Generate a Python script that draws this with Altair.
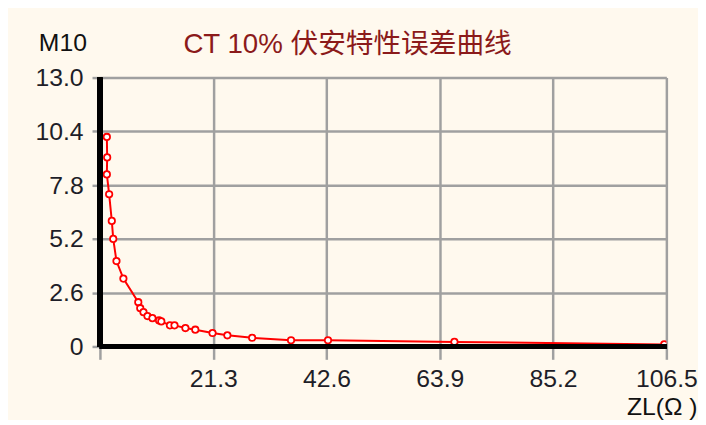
import altair as alt
import pandas as pd

# data
zl = [1.3, 1.36, 1.3, 1.73, 2.23, 2.5, 3.11, 4.41, 7.21, 7.58, 8.19, 8.94, 9.87,
      11.12, 11.54, 13.16, 14.02, 16.07, 17.93, 21.17, 23.96, 28.62, 35.93, 42.88,
      66.65, 106.1]
m10 = [10.13, 9.14, 8.32, 7.36, 6.07, 5.2, 4.13, 3.28, 2.14, 1.85, 1.66, 1.47, 1.37,
       1.26, 1.21, 1.02, 1.02, 0.89, 0.81, 0.65, 0.54, 0.42, 0.30, 0.30,
       0.22, 0.10]
x_ticks = [0, 21.3, 42.6, 63.9, 85.2, 106.5]
y_ticks = [0, 2.6, 5.2, 7.8, 10.4, 13.0]

df = pd.DataFrame({"zl": zl, "m10": m10, "idx": list(range(len(zl)))})

BG = "#FFF9EE"
GRID = "#A0A0A0"
FONT = "Liberation Sans"
LBL = "#1E1E28"

x_enc = alt.X(
    "zl:Q",
    scale=alt.Scale(domain=[0, 106.5], nice=False, zero=False),
    axis=alt.Axis(
        values=x_ticks,
        labelExpr="datum.value == 0 ? '' : format(datum.value, '.1f')",
        title="ZL(Ω )",
        titleX=604, titleY=69, titleAlign="right", titleBaseline="alphabetic",
        titleAnchor="end",
        titleFont=FONT, titleFontSize=25, titleFontWeight="normal", titleColor="#111111",
        labelFont=FONT, labelFontSize=25, labelColor=LBL,
        labelPadding=8, tickSize=13, tickColor=GRID, tickWidth=2.5,
        gridColor=GRID, gridWidth=2.5, domain=False, labelFlush=False,
    ),
)
y_enc = alt.Y(
    "m10:Q",
    scale=alt.Scale(domain=[0, 13], nice=False, zero=False),
    axis=alt.Axis(
        values=y_ticks,
        labelExpr="datum.value == 0 ? '0\u00a0' : format(datum.value, '.1f')",
        title="M10",
        titleX=-38, titleY=-27, titleAngle=0, titleAlign="center",
        titleBaseline="alphabetic",
        titleFont=FONT, titleFontSize=25, titleFontWeight="normal", titleColor="#111111",
        labelFont=FONT, labelFontSize=25, labelColor=LBL,
        labelPadding=9, tickSize=8, tickColor=GRID, tickWidth=2.5,
        gridColor=GRID, gridWidth=2.5, domain=False, labelFlush=False,
    ),
)

base = alt.Chart(df)
line = base.mark_line(color="#FF0000", strokeWidth=2, clip=True).encode(
    x=x_enc, y=y_enc, order="idx:Q"
)
pts = base.mark_point(
    shape="circle", filled=False, fill="#FFFFFF", fillOpacity=1,
    color="#FF0000", strokeWidth=1.8, size=42, opacity=1, clip=True
).encode(x="zl:Q", y="m10:Q")

axis_x = alt.Chart(df).mark_rule(color="#000000", strokeWidth=4.5).encode(y=alt.datum(0))
axis_y = alt.Chart(df).mark_rule(color="#000000", strokeWidth=4.5).encode(x=alt.datum(0))

chart = alt.layer(line, pts, axis_x, axis_y).properties(
    width=573, height=272,
    title=alt.Title(
        "CT 10% 伏安特性误差曲线",
        font=f"{FONT}, Noto Sans CJK SC", fontSize=28, fontWeight="normal",
        color="#8B1A1A", anchor="middle", frame="group", baseline="alphabetic",
        offset=0, dx=-36, dy=50,
    ),
    padding={"left": 93, "top": 68, "right": 32, "bottom": 72},
    autosize=alt.AutoSizeParams(type="none"),
    background=BG,
).configure_view(stroke=None, fill=BG)

chart.save("out.html", embed_options={"renderer": "svg", "actions": False})
